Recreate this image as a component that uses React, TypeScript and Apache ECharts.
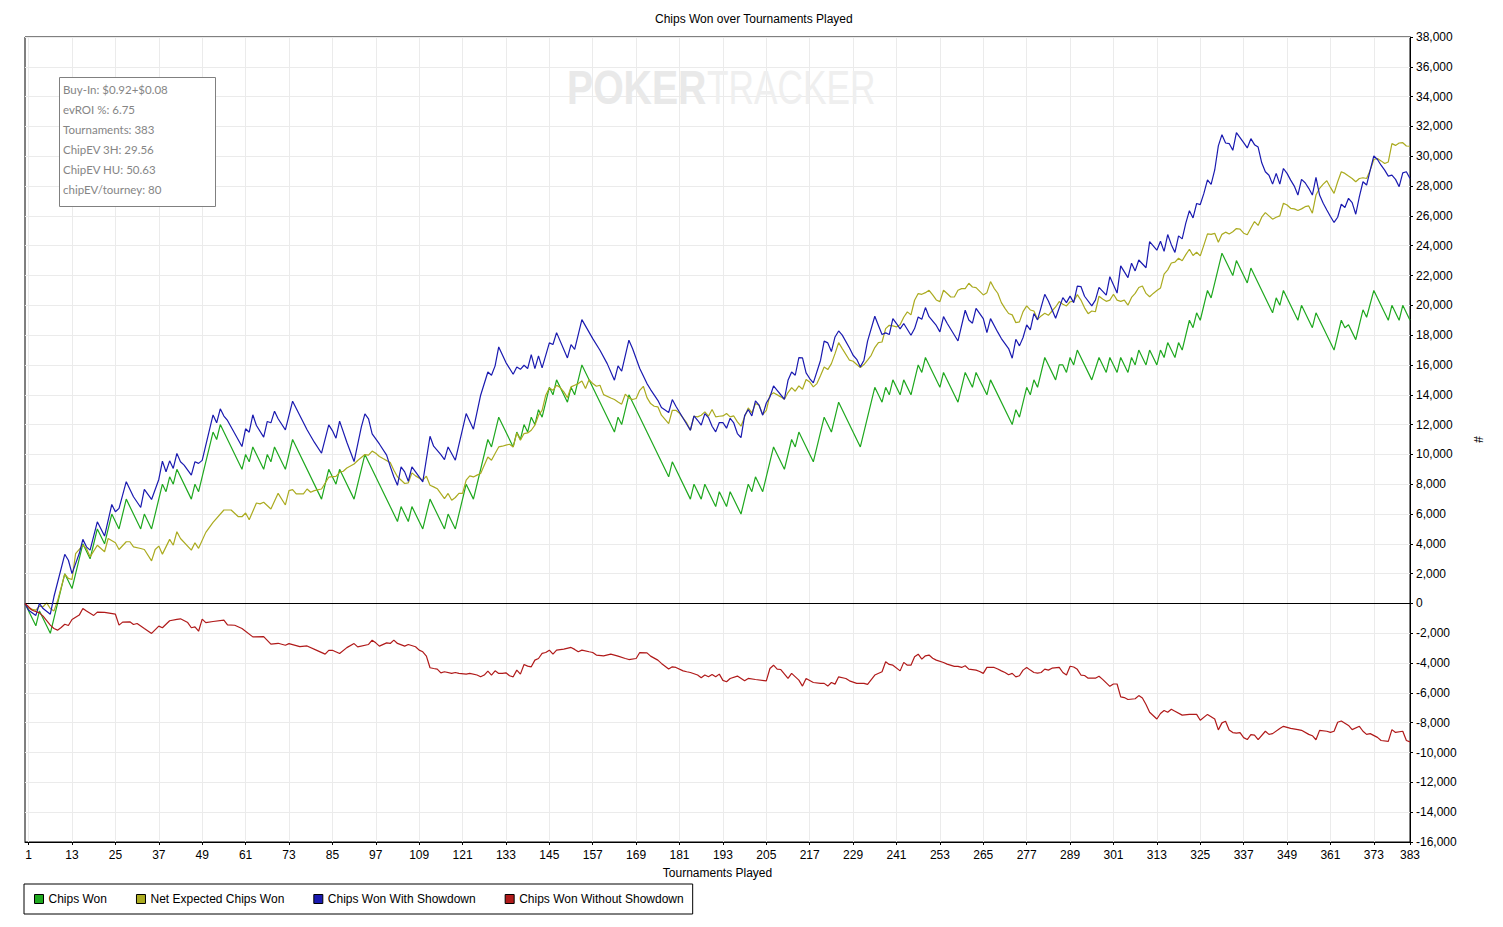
import React, { useEffect, useRef } from "react";
import * as echarts from "echarts";

const chartTitle = "Chips Won over Tournaments Played";
const tournamentCount = 383;
const xTickLabels = [1, 13, 25, 37, 49, 61, 73, 85, 97, 109, 121, 133, 145, 157, 169, 181, 193, 205, 217, 229, 241, 253, 265, 277, 289, 301, 313, 325, 337, 349, 361, 373, 383];
const seriesNames = ["Chips Won", "Net Expected Chips Won", "Chips Won With Showdown", "Chips Won Without Showdown"];
const seriesColors = ["#1fa81f", "#abab20", "#1a1ab0", "#b01a1a"];
const infoLines = ["Buy-In: $0.92+$0.08", "evROI %: 6.75", "Tournaments: 383", "ChipEV 3H: 29.56", "ChipEV HU: 50.63", "chipEV/tourney: 80"];

// [tournament, chips] vertices
const chipsWon: [number, number][] = [[0,0],[3,-1500],[4,-500],[7,-2000],[11,2000],[13,1000],[16,4000],[18,3000],[20,5000],[22,4000],[24,6000],[26,5000],[28,7000],[32,5000],[33,6000],[35,5000],[38,8000],[39,7500],[40,8500],[41,8000],[42,9000],[46,7000],[47,8000],[48,7500],[52,11500],[53,11000],[54,12000],[60,9000],[61,10000],[62,9500],[63,10500],[66,9000],[67,10000],[68,9500],[69,10500],[72,9000],[74,11000],[82,7000],[84,9000],[86,8000],[87,9000],[91,7000],[94,10000],[103,5500],[104,6500],[106,5500],[107,6500],[110,5000],[112,7000],[116,5000],[117,6000],[119,5000],[122,8000],[124,7000],[128,11000],[129,10500],[131,12500],[135,10500],[136,11500],[137,11000],[138,12000],[139,11500],[140,12500],[141,12000],[142,13000],[143,12500],[145,14500],[146,14000],[147,15000],[150,13500],[151,14500],[152,14000],[154,16000],[163,11500],[164,12500],[165,12000],[167,14000],[178,8500],[179,9500],[184,7000],[185,8000],[187,7000],[188,8000],[191,6500],[192,7500],[194,6500],[195,7500],[198,6000],[200,8000],[201,7500],[202,8500],[204,7500],[207,10500],[210,9000],[212,11000],[213,10500],[214,11500],[218,9500],[221,12500],[223,11500],[225,13500],[231,10500],[235,14500],[237,13500],[238,14500],[239,14000],[240,15000],[242,14000],[243,15000],[245,14000],[247,16000],[248,15500],[249,16500],[253,14500],[254,15500],[258,13500],[260,15500],[262,14500],[263,15500],[266,14000],[267,15000],[273,12000],[274,13000],[275,12500],[277,14500],[278,14000],[279,15000],[280,14500],[282,16500],[285,15000],[286,16000],[287,16000],[288,15500],[289,16500],[290,16000],[291,17000],[295,15000],[297,16500],[299,15500],[300,16500],[302,15500],[303,16500],[305,15500],[306,16500],[307,16000],[308,17000],[310,16000],[311,17000],[313,16000],[314,17000],[315,16500],[316,17500],[318,16500],[319,17500],[320,17000],[322,19000],[323,18500],[324,19500],[325,19000],[327,21000],[328,20500],[331,23500],[334,22000],[335,23000],[338,21500],[339,22500],[345,19500],[346,20500],[347,20000],[348,21000],[352,19000],[353,20000],[356,18500],[357,19500],[362,17000],[364,19000],[365,18500],[366,18700],[368,17700],[370,19700],[371,19200],[373,21000],[377,19000],[378,20000],[380,19000],[381,20000],[383,19000]];

const netExpected: [number, number][] = [[0,0],[1,-340],[3,-450],[4,-180],[5,-220],[6,40],[7,-340],[8,-510],[9,180],[11,1970],[12,1680],[13,1610],[14,3350],[16,3910],[17,3690],[18,3130],[20,3910],[22,3470],[23,4360],[25,4070],[26,3620],[28,4140],[29,4140],[30,3800],[32,3690],[33,3620],[35,2860],[36,3620],[37,3850],[38,3310],[40,4300],[41,3910],[42,4810],[43,4360],[46,3580],[47,4070],[48,3700],[50,4770],[52,5440],[55,6270],[57,6270],[59,5820],[60,5820],[61,6070],[62,5620],[64,6740],[65,6680],[66,6790],[68,6340],[70,7390],[72,6610],[73,7570],[74,7640],[75,7350],[77,7350],[78,7680],[79,7460],[80,7570],[82,7680],[84,8470],[85,8510],[86,8530],[87,8800],[88,8870],[89,9090],[91,9360],[92,9590],[94,9990],[95,9950],[96,10220],[97,10080],[98,9860],[99,9720],[101,9450],[102,8940],[103,8500],[105,8050],[106,8090],[107,8760],[108,8560],[110,8270],[111,8540],[112,7930],[113,7820],[114,7700],[116,7040],[117,7380],[118,6930],[119,7110],[120,7380],[121,7380],[122,8270],[123,8560],[124,8490],[125,8610],[126,8720],[128,9830],[129,9610],[130,10060],[131,10500],[132,10550],[133,10620],[134,10680],[135,10500],[136,11440],[137,10950],[138,11400],[139,11440],[140,11620],[141,11960],[142,12630],[143,12960],[144,13970],[145,14450],[146,14300],[147,14640],[148,14480],[149,14190],[150,13810],[151,14530],[152,14640],[153,14750],[154,14930],[155,14420],[156,15020],[157,14750],[158,14570],[159,14640],[160,14010],[162,13780],[163,13680],[164,13520],[165,13370],[166,14040],[167,13790],[168,13680],[169,13750],[170,14300],[171,14570],[172,13810],[173,13410],[174,13230],[175,13190],[176,12630],[178,12070],[179,12960],[180,12960],[181,12750],[183,12110],[184,11620],[185,12560],[186,12520],[187,12630],[188,12850],[189,12560],[190,13010],[191,12520],[192,12560],[193,12580],[194,12740],[195,12520],[196,12580],[197,12180],[198,11890],[199,12520],[200,13120],[201,12780],[202,13410],[203,13300],[204,12670],[205,12960],[206,13970],[207,14130],[209,13860],[210,13700],[211,14150],[212,14480],[213,14240],[214,14600],[215,14370],[216,15020],[217,14860],[218,14530],[219,14750],[220,15300],[221,15870],[222,15690],[223,16090],[224,16760],[225,17500],[226,17100],[228,16320],[229,16250],[230,16030],[231,15820],[232,16030],[233,16320],[234,16650],[235,17170],[236,17500],[237,17540],[238,18440],[239,18660],[240,18620],[241,18550],[242,18700],[243,19200],[244,19560],[245,19360],[246,20340],[247,20790],[248,20740],[249,20850],[250,21010],[251,20700],[252,20360],[253,20250],[254,21010],[255,20790],[256,20560],[257,20560],[258,21010],[259,21120],[260,21120],[261,21480],[262,21230],[263,21190],[265,20700],[266,20850],[267,21590],[268,21140],[269,20810],[270,20180],[271,19800],[272,19450],[273,19360],[274,18840],[275,18890],[276,19580],[277,19960],[278,19690],[279,19620],[280,19070],[281,19290],[282,19470],[283,19330],[284,19620],[285,19890],[286,20250],[287,20070],[288,19960],[289,20240],[290,20260],[291,20720],[292,20350],[293,19830],[294,19440],[295,19620],[296,19570],[297,20610],[298,20430],[299,20270],[300,20350],[301,20740],[302,20350],[303,20270],[304,20350],[305,20010],[306,20530],[307,20800],[308,21200],[309,21300],[310,20800],[311,20580],[312,20800],[313,20990],[314,21160],[315,22100],[316,22380],[317,22840],[318,22900],[319,23160],[320,22990],[321,23400],[322,23760],[323,23340],[324,23560],[325,23320],[326,24040],[327,24790],[328,24760],[329,24830],[330,24230],[331,24760],[332,24910],[333,24790],[334,24940],[335,25150],[336,25110],[337,24840],[338,24730],[339,25190],[340,25620],[341,25360],[342,25910],[343,26220],[344,26000],[345,25780],[346,25910],[347,26000],[348,26850],[349,26730],[350,26510],[351,26470],[352,26360],[353,26470],[354,26620],[355,26670],[356,26180],[357,27400],[358,27850],[359,28130],[360,28360],[361,27910],[362,27510],[363,28290],[364,28960],[365,28850],[366,28670],[367,28510],[368,28290],[369,28510],[370,28560],[371,28510],[372,29070],[373,29780],[374,29850],[375,29690],[376,29510],[377,29620],[378,30850],[379,30730],[380,30890],[381,30910],[382,30690],[383,30670]];

const withShowdown: [number, number][] = [[0,0],[1,-450],[3,-800],[4,0],[5,-340],[7,-720],[8,450],[11,3300],[12,2900],[13,2000],[15,3350],[16,4300],[17,3800],[18,3580],[20,5480],[22,4520],[24,6640],[25,6150],[26,6380],[28,8170],[30,7160],[32,6440],[33,7650],[35,6980],[37,8320],[38,9550],[39,8840],[40,9570],[41,9060],[42,10070],[43,9510],[44,9280],[46,8610],[47,9510],[48,9400],[49,9600],[52,12650],[53,12120],[54,13060],[55,12570],[56,12280],[60,10530],[61,11720],[62,11490],[63,12660],[64,11940],[66,11160],[67,12210],[68,12120],[69,12900],[70,12390],[72,11650],[74,13570],[76,12610],[78,11650],[80,10820],[82,10080],[84,11980],[85,11600],[86,11090],[87,12230],[89,10820],[91,9520],[93,11830],[94,12720],[95,12390],[96,11380],[98,10700],[100,9950],[101,9200],[102,8500],[103,7930],[104,9160],[105,8830],[106,8200],[107,9160],[108,8830],[110,8160],[112,11220],[113,10550],[115,9990],[116,9650],[117,10500],[119,9610],[122,12740],[124,11690],[126,13970],[128,15530],[129,15310],[130,15940],[131,17210],[133,16160],[135,15380],[136,15870],[137,15710],[138,15980],[139,15760],[140,16700],[141,15760],[142,16610],[143,15800],[145,17480],[146,17370],[147,18170],[150,16470],[151,17370],[152,17050],[154,19040],[157,17770],[159,16990],[161,16090],[163,14980],[164,15940],[165,15580],[167,17660],[168,17100],[170,15760],[172,14750],[173,14350],[175,13630],[176,13140],[178,12810],[179,13680],[180,13230],[184,11620],[185,12580],[186,12290],[187,11960],[188,12740],[189,12470],[190,11890],[191,11510],[192,12140],[193,12130],[194,11760],[195,12420],[196,12110],[197,11400],[198,11130],[199,12600],[200,13010],[201,12580],[202,13590],[203,13300],[204,12630],[205,13450],[206,13850],[207,14600],[208,14300],[210,13700],[211,14970],[212,15530],[213,15310],[214,16490],[215,16470],[216,15470],[217,15090],[218,14800],[220,16320],[221,17600],[222,17480],[223,16900],[224,17880],[225,18280],[226,18000],[228,17140],[229,16650],[230,16380],[231,15870],[232,16320],[233,17600],[235,19270],[236,18650],[237,18040],[238,18150],[239,18040],[240,19110],[241,18780],[242,18420],[243,18780],[245,17990],[246,18440],[247,19220],[248,19070],[249,19850],[250,19240],[252,18650],[253,18220],[254,19240],[255,18800],[258,17610],[260,19670],[261,19020],[262,18800],[263,19800],[265,19110],[266,18170],[267,19110],[269,18200],[270,17770],[272,17100],[273,16450],[274,17720],[275,17280],[276,17840],[277,18690],[278,18350],[279,19450],[280,19020],[282,20740],[283,20290],[285,19130],[287,20520],[288,20180],[289,20620],[290,20180],[291,21290],[292,21260],[293,20610],[295,19960],[296,20350],[297,21210],[299,20690],[300,21920],[302,20820],[303,22650],[305,21860],[306,22830],[307,22310],[308,23040],[310,22520],[311,24270],[313,23700],[314,24300],[315,23620],[316,24750],[317,24070],[318,23550],[319,24660],[320,24460],[321,25510],[322,26350],[323,25860],[324,26830],[325,26760],[326,27510],[327,28420],[328,28120],[329,29080],[330,30700],[331,31450],[332,30890],[333,30850],[334,30400],[335,31580],[336,31250],[337,30910],[338,30560],[339,31180],[340,30780],[341,30620],[342,29560],[343,28960],[344,28730],[345,28130],[346,28850],[347,28130],[348,29180],[349,28850],[350,28400],[351,28000],[352,27400],[353,28450],[354,28220],[355,27850],[356,27400],[357,28580],[358,27400],[359,26850],[360,26400],[361,25960],[362,25560],[363,25910],[364,26780],[365,26560],[366,27180],[367,26890],[368,26110],[369,27290],[370,28290],[371,28070],[372,29070],[373,30020],[374,29780],[375,29400],[376,29070],[377,28670],[378,28730],[379,28450],[380,27960],[381,28890],[382,28960],[383,28510]];

const withoutShowdown: [number, number][] = [[0,0],[2,-450],[4,-630],[5,-850],[7,-1450],[8,-1680],[9,-1790],[10,-1610],[11,-1390],[12,-1480],[13,-1070],[15,-780],[16,-340],[17,-510],[19,-800],[20,-580],[22,-600],[25,-720],[26,-1450],[27,-1250],[29,-1230],[30,-1410],[31,-1340],[33,-1680],[35,-2010],[37,-1520],[38,-1630],[40,-1160],[42,-1070],[43,-1030],[45,-1280],[46,-1630],[47,-1570],[48,-1860],[49,-1050],[50,-1280],[52,-1210],[55,-1120],[56,-1430],[58,-1460],[60,-1680],[63,-2240],[66,-2220],[68,-2730],[70,-2670],[72,-2800],[73,-2690],[76,-2890],[78,-2850],[81,-3180],[83,-3400],[84,-3140],[85,-3140],[87,-3360],[89,-2960],[91,-2690],[92,-2910],[95,-2750],[96,-2460],[97,-2640],[98,-2860],[100,-2640],[101,-2680],[102,-2460],[103,-2680],[105,-2860],[106,-2750],[108,-2900],[109,-3130],[110,-3240],[111,-3530],[112,-4310],[113,-4360],[114,-4400],[115,-4650],[116,-4580],[118,-4690],[119,-4630],[120,-4690],[122,-4740],[123,-4690],[125,-4800],[126,-4920],[127,-4800],[128,-4540],[129,-4800],[130,-4520],[131,-4690],[132,-4690],[133,-4650],[134,-4850],[135,-4920],[136,-4470],[137,-4740],[138,-4090],[139,-4200],[140,-4250],[141,-3800],[142,-3690],[143,-3350],[144,-3290],[145,-3130],[146,-3400],[147,-3130],[149,-3060],[151,-2950],[152,-3080],[153,-3240],[154,-3130],[156,-3240],[157,-3290],[158,-3460],[160,-3510],[162,-3400],[164,-3530],[166,-3690],[167,-3760],[169,-3690],[170,-3290],[172,-3310],[173,-3530],[175,-3800],[176,-4020],[178,-4400],[179,-4250],[180,-4290],[182,-4520],[183,-4580],[184,-4630],[186,-4800],[187,-4980],[188,-4800],[189,-4920],[190,-4760],[191,-4920],[192,-4740],[193,-5160],[194,-5250],[195,-5030],[197,-4870],[199,-5190],[200,-5030],[202,-5100],[205,-5190],[206,-4360],[207,-4140],[208,-4400],[209,-4430],[211,-5030],[212,-4690],[214,-5140],[215,-5540],[216,-5030],[218,-5300],[220,-5360],[221,-5360],[222,-5540],[223,-5300],[224,-5410],[225,-4920],[227,-5030],[228,-5190],[230,-5360],[232,-5360],[233,-5430],[235,-4800],[237,-4580],[238,-3910],[239,-4090],[240,-4140],[242,-4520],[243,-3950],[244,-4140],[245,-4140],[246,-3580],[247,-3400],[248,-3730],[249,-3510],[250,-3460],[251,-3670],[252,-3800],[254,-3960],[255,-4070],[257,-4220],[258,-4220],[259,-4290],[260,-4180],[261,-4400],[263,-4470],[264,-4560],[265,-4690],[266,-4290],[268,-4290],[269,-4400],[270,-4520],[271,-4630],[272,-4780],[273,-4690],[274,-4920],[275,-4850],[276,-4470],[277,-4290],[278,-4470],[279,-4630],[280,-4670],[281,-4630],[282,-4400],[283,-4470],[284,-4340],[286,-4290],[287,-4630],[288,-4800],[289,-4210],[290,-4260],[291,-4420],[292,-4800],[293,-4830],[294,-5010],[296,-5010],[297,-4880],[298,-5090],[300,-5560],[301,-5400],[302,-5400],[303,-6260],[304,-6310],[305,-6440],[307,-6390],[308,-6180],[309,-6340],[310,-6780],[311,-7300],[313,-7750],[314,-7380],[315,-7180],[316,-7300],[317,-7100],[318,-7230],[320,-7490],[322,-7440],[324,-7440],[325,-7830],[327,-7440],[329,-7750],[330,-8480],[331,-8010],[332,-7900],[333,-8480],[334,-8660],[335,-8700],[336,-8660],[337,-9000],[338,-9130],[339,-8800],[340,-8830],[341,-9140],[343,-8570],[344,-8780],[345,-8730],[347,-8380],[348,-8240],[350,-8380],[352,-8460],[353,-8510],[355,-8780],[356,-8870],[357,-9140],[358,-8510],[360,-8570],[361,-8650],[362,-8570],[363,-7970],[364,-7880],[366,-8180],[367,-8460],[369,-8240],[370,-8570],[371,-8780],[372,-8730],[374,-8980],[375,-9190],[377,-9250],[378,-8460],[379,-8650],[381,-8570],[382,-9190],[383,-9280]];

const seriesData = [chipsWon, netExpected, withShowdown, withoutShowdown];

const FONT = '"Liberation Sans", Arial, sans-serif';

export default function App() {
  const ref = useRef<HTMLDivElement>(null);

  useEffect(() => {
    if (!ref.current) return;
    const chart = echarts.init(ref.current, null, { renderer: "svg" });
    const categories = Array.from({ length: tournamentCount + 1 }, (_, i) => String(i));
    const tickSet = new Set(xTickLabels);
    const showTick = (idx: number) => tickSet.has(idx);

    const series: any[] = seriesNames.map((name, i) => ({
      name,
      type: "line",
      data: seriesData[i],
      symbol: "none",
      showSymbol: false,
      lineStyle: { width: 1.2, color: seriesColors[i] },
      itemStyle: { color: seriesColors[i] },
      z: 3 + i,
    }));
    series[0].markLine = {
      silent: true,
      symbol: "none",
      label: { show: false },
      lineStyle: { color: "#000", width: 1, type: "solid" },
      data: [{ yAxis: 0 }],
    };

    const option: any = {
      animation: false,
      backgroundColor: "#ffffff",
      textStyle: { fontFamily: FONT },
      title: {
        text: chartTitle,
        left: 655,
        top: 13,
        padding: 0,
        textStyle: { fontSize: 12, fontWeight: "normal", color: "#000", fontFamily: FONT },
      },
      grid: {
        left: 25,
        top: 37,
        width: 1385,
        height: 805,
        show: true,
        borderColor: "#000",
        borderWidth: 1,
        containLabel: false,
      },
      legend: {
        left: 24,
        top: 884,
        orient: "horizontal",
        icon: "rect",
        itemWidth: 9,
        itemHeight: 9,
        itemGap: 29,
        padding: [9, 9, 9, 10],
        borderColor: "#000",
        borderWidth: 1,
        itemStyle: { borderColor: "#000", borderWidth: 1 },
        textStyle: { fontSize: 12, color: "#000", fontFamily: FONT },
        data: seriesNames,
      },
      xAxis: {
        type: "category",
        data: categories,
        boundaryGap: false,
        name: "Tournaments Played",
        nameLocation: "middle",
        nameGap: 25,
        nameTextStyle: { fontSize: 12, color: "#000", fontFamily: FONT },
        axisLine: { show: true, onZero: false, lineStyle: { color: "#000", width: 1 } },
        axisTick: { show: true, interval: showTick, length: 3, lineStyle: { color: "#000" } },
        axisLabel: { interval: showTick, fontSize: 12, color: "#000", margin: 7, fontFamily: FONT },
        splitLine: { show: true, interval: showTick, lineStyle: { color: "#ebebeb", width: 1 } },
      },
      yAxis: {
        type: "value",
        position: "right",
        min: -16000,
        max: 38000,
        interval: 2000,
        name: "#",
        nameLocation: "middle",
        nameGap: 62,
        nameRotate: -90,
        nameTextStyle: { fontSize: 12, color: "#000", fontFamily: FONT },
        axisLine: { show: true, lineStyle: { color: "#000", width: 1 } },
        axisTick: { show: true, length: 3, lineStyle: { color: "#000" } },
        axisLabel: {
          fontSize: 12,
          color: "#000",
          margin: 6,
          fontFamily: FONT,
          formatter: (v: number) => v.toLocaleString("en-US"),
        },
        splitLine: { show: true, lineStyle: { color: "#ebebeb", width: 1 } },
      },
      graphic: [
        {
          type: "text",
          x: 567,
          y: 87,
          scaleX: 0.8,
          z: 1,
          silent: true,
          style: { text: "POKER", font: 'bold 49px "Liberation Sans"', fill: "#e9e9e9", verticalAlign: "middle" },
        },
        {
          type: "text",
          x: 707,
          y: 87,
          scaleX: 0.72,
          z: 1,
          silent: true,
          style: { text: "TRACKER", font: '49px "Liberation Sans"', fill: "#efefef", verticalAlign: "middle" },
        },
        {
          type: "group",
          x: 59,
          y: 77,
          z: 20,
          children: [
            {
              type: "rect",
              z: 20,
              shape: { x: 0.5, y: 0.5, width: 156, height: 129 },
              style: { fill: "#ffffff", stroke: "#808080", lineWidth: 1 },
            },
            ...infoLines.map((s, i) => ({
              type: "text",
              z: 21,
              x: 4,
              y: 12.5 + i * 20,
              style: { text: s, font: '11.5px Lato', fill: "#858585", verticalAlign: "middle" },
            })),
          ],
        },
      ],
      series,
    };

    chart.setOption(option);
    return () => chart.dispose();
  }, []);

  return (
    <div
      ref={ref}
      style={{ position: "fixed", left: 0, top: 0, width: "1503px", height: "927px", background: "#fff" }}
    />
  );
}
